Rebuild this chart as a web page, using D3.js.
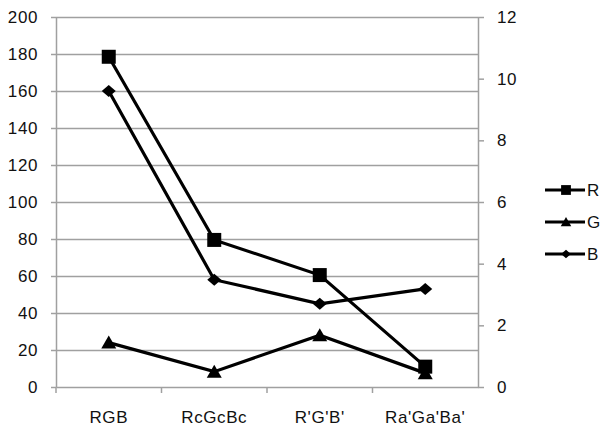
<!DOCTYPE html>
<html>
<head>
<meta charset="utf-8">
<script src="https://cdn.jsdelivr.net/npm/d3@7"></script>
<style>
    body { margin: 0; background: #fff; }
    text { font-family: "Liberation Sans", Arial, sans-serif; font-size: 17px; fill: #111; }
</style>
</head>
<body>
<svg width="604" height="428"></svg>
<script>
// data
var categories = ["RGB", "RcGcBc", "R'G'B'", "Ra'Ga'Ba'"];
var seriesNames = ["R", "G", "B"];
var rValues = [178.5, 79.5, 60.5, 11];
var gValues = [24, 8.3, 28, 7.5];
var bValues = [160, 58, 45, 53];
var leftTicks = [0, 20, 40, 60, 80, 100, 120, 140, 160, 180, 200];
var rightTicks = [0, 2, 4, 6, 8, 10, 12];

var series = [
    {name: seriesNames[0], values: rValues, shape: "square"},
    {name: seriesNames[1], values: gValues, shape: "triangle"},
    {name: seriesNames[2], values: bValues, shape: "diamond"}
];

var svg = d3.select("svg"),
    margin = {top: 17, right: 126, bottom: 41, left: 56},
    width = 604 - margin.left - margin.right,
    height = 428 - margin.top - margin.bottom,
    g = svg.append("g").attr("transform", "translate(" + margin.left + "," + margin.top + ")");

var x = d3.scaleBand().domain(categories).range([0, width]);
var y = d3.scaleLinear().domain([0, 200]).range([height, 0]);
var y2 = d3.scaleLinear().domain([0, 12]).range([height, 0]);

//gridlines
g.selectAll(".grid")
    .data(leftTicks.slice(1))
    .enter().append("line")
    .attr("x1", 0).attr("x2", width)
    .attr("y1", function(d) { return y(d) + 0.5; })
    .attr("y2", function(d) { return y(d) + 0.5; })
    .attr("stroke", "#a0a0a0")
    .attr("stroke-width", 1.5);

function styleAxis(sel) {
    sel.select(".domain").attr("stroke", "#a0a0a0").attr("stroke-width", 1.5);
    sel.selectAll(".tick line").attr("stroke", "#a0a0a0").attr("stroke-width", 1.5);
    sel.selectAll("text").style("font-size", "17px").style("letter-spacing", "0.6px").attr("fill", "#111");
}

g.append("g")
    .call(d3.axisLeft(y).tickValues(leftTicks).tickSize(5).tickSizeOuter(0).tickPadding(13))
    .call(styleAxis);

g.append("g")
    .attr("transform", "translate(" + width + ",0)")
    .call(d3.axisRight(y2).tickValues(rightTicks).tickSize(6).tickSizeOuter(0).tickPadding(13))
    .call(styleAxis);

g.append("g")
    .attr("transform", "translate(0," + height + ")")
    .call(d3.axisBottom(x).tickSize(0).tickPadding(24))
    .call(styleAxis);

// category separators on the x axis
g.selectAll(".xsep")
    .data(categories)
    .enter().append("line")
    .attr("x1", function(d) { return x(d); })
    .attr("x2", function(d) { return x(d); })
    .attr("y1", height).attr("y2", height + 6)
    .attr("stroke", "#a0a0a0")
    .attr("stroke-width", 1.5);

// marker shapes, k = scale
function marker(shape, k) {
    if (shape == "square") {
        var s = 7 * k;
        return "M" + (-s) + "," + (-s) + "H" + s + "V" + s + "H" + (-s) + "Z";
    }
    if (shape == "triangle") {
        return "M0," + (-7 * k) + "L" + (7.5 * k) + "," + (6 * k) + "H" + (-7.5 * k) + "Z";
    }
    return "M0," + (-6 * k) + "L" + (7 * k) + ",0L0," + (6 * k) + "L" + (-7 * k) + ",0Z";
}

var line = d3.line()
    .x(function(d, i) { return x(categories[i]) + x.bandwidth() / 2; })
    .y(function(d) { return y(d); });

series.forEach(function(s) {
    g.append("path")
        .datum(s.values)
        .attr("fill", "none")
        .attr("stroke", "#000")
        .attr("stroke-width", 3.2)
        .attr("d", line);

    g.selectAll(".pt-" + s.name)
        .data(s.values)
        .enter().append("path")
        .attr("transform", function(d, i) {
            return "translate(" + (x(categories[i]) + x.bandwidth() / 2) + "," + y(d) + ")";
        })
        .attr("d", marker(s.shape, 1))
        .attr("fill", "#000");
});

//legend
var legend = svg.append("g").attr("transform", "translate(545,190)");
var item = legend.selectAll(".item")
    .data(series)
    .enter().append("g")
    .attr("transform", function(d, i) { return "translate(0," + (i * 32) + ")"; });

item.append("line")
    .attr("x1", 0).attr("x2", 40)
    .attr("stroke", "#000").attr("stroke-width", 3);
item.append("path")
    .attr("transform", "translate(21,0)")
    .attr("d", function(d) { return marker(d.shape, 0.7); })
    .attr("fill", "#000");
item.append("text")
    .attr("x", 42)
    .attr("dy", "0.36em")
    .text(function(d) { return d.name; });
</script>
</body>
</html>
